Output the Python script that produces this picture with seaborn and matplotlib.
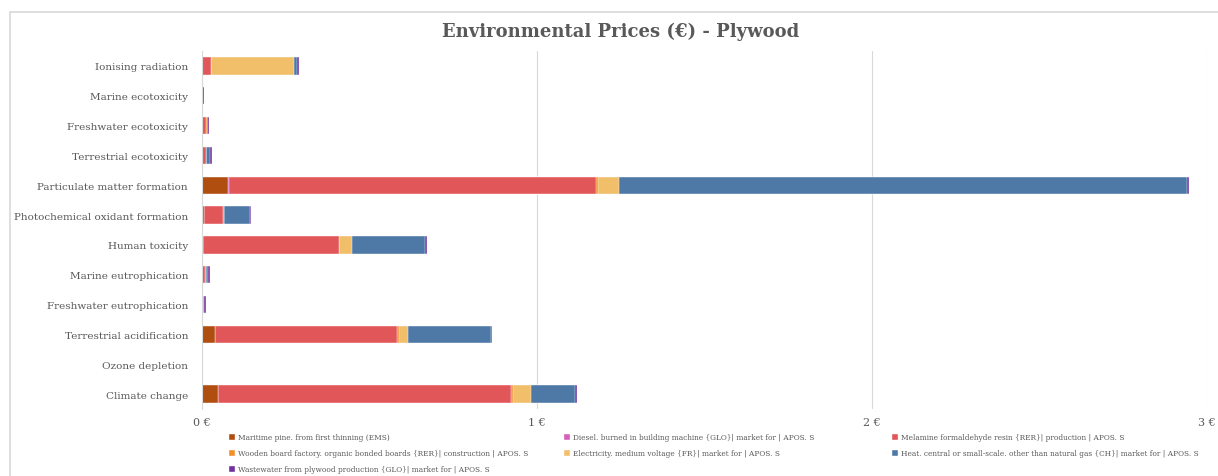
import numpy as np
import pandas as pd
import seaborn as sns
import matplotlib.pyplot as plt
from matplotlib.patches import Patch, Rectangle

# categorías de impacto (de arriba a abajo)
categorias = [
    'Ionising radiation', 'Marine ecotoxicity', 'Freshwater ecotoxicity',
    'Terrestrial ecotoxicity', 'Particulate matter formation',
    'Photochemical oxidant formation', 'Human toxicity', 'Marine eutrophication',
    'Freshwater eutrophication', 'Terrestrial acidification', 'Ozone depletion',
    'Climate change'
]

# contribuciones por proceso (€)
maritime_pine = [0.000, 0.000, 0.000, 0.000, 0.079, 0.007, 0.003, 0.000, 0.000, 0.039, 0.000, 0.047]
diesel        = [0.000, 0.000, 0.000, 0.000, 0.001, 0.000, 0.000, 0.000, 0.000, 0.001, 0.000, 0.001]
melamine      = [0.027, 0.000, 0.013, 0.011, 1.095, 0.055, 0.405, 0.010, 0.004, 0.543, 0.000, 0.873]
wooden_board  = [0.001, 0.000, 0.003, 0.000, 0.008, 0.005, 0.001, 0.002, 0.000, 0.004, 0.000, 0.006]
electricity   = [0.247, 0.000, 0.000, 0.000, 0.062, 0.000, 0.039, 0.000, 0.000, 0.028, 0.000, 0.056]
heat          = [0.010, 0.000, 0.000, 0.014, 1.695, 0.076, 0.219, 0.006, 0.003, 0.248, 0.000, 0.129]
wastewater    = [0.005, 0.005, 0.006, 0.005, 0.006, 0.004, 0.006, 0.005, 0.005, 0.004, 0.002, 0.007]

series = [
    ('Maritime pine. from first thinning (EMS)', maritime_pine, '#B04E0F'),
    ('Diesel. burned in building machine {GLO}| market for | APOS. S', diesel, '#D660B9'),
    ('Melamine formaldehyde resin {RER}| production | APOS. S', melamine, '#E15759'),
    ('Wooden board factory. organic bonded boards {RER}| construction | APOS. S', wooden_board, '#F28E2B'),
    ('Electricity. medium voltage {FR}| market for | APOS. S', electricity, '#F1BE6A'),
    ('Heat. central or small-scale. other than natural gas {CH}| market for | APOS. S', heat, '#4E79A7'),
    ('Wastewater from plywood production {GLO}| market for | APOS. S', wastewater, '#7030A0'),
]

sns.set_style('white')
plt.rcParams['font.family'] = ['DejaVu Serif']
gris = '#595959'

fig = plt.figure(figsize=(12.18, 4.77), dpi=100)
ax = fig.add_axes([202 / 1218, 1 - 410 / 477, (1207 - 202) / 1218, (410 - 52) / 477])

# barras apiladas: se dibujan los acumulados del mayor al menor
acumulado = np.cumsum([np.array(s[1]) for s in series], axis=0)
for i in range(len(series) - 1, -1, -1):
    df = pd.DataFrame({'cat': categorias, 'val': acumulado[i]})
    sns.barplot(data=df, x='val', y='cat', color=series[i][2], orient='h',
                width=0.58, ax=ax, saturation=1, edgecolor='white', linewidth=0.3)

ax.set_xlim(0, 3)
ax.set_xticks([0, 1, 2, 3])
ax.set_xticklabels(['0 €', '1 €', '2 €', '3 €'], color=gris, fontsize=8)
ax.tick_params(axis='y', labelsize=7.5, labelcolor=gris, length=0, pad=10)
ax.tick_params(axis='x', length=0, pad=6)
ax.set_xlabel('')
ax.set_ylabel('')
ax.grid(axis='x', color='#D9D9D9', linewidth=0.8)
ax.set_axisbelow(True)
for s in ['top', 'right', 'bottom']:
    ax.spines[s].set_visible(False)
ax.spines['left'].set_color('#D9D9D9')

fig.text(621 / 1218, 1 - 32 / 477, 'Environmental Prices (€) - Plywood',
         ha='center', va='center', fontsize=13, fontweight='bold', color=gris)

# marco exterior
fig.patches.append(Rectangle((10 / 1218, -0.1), 1.2, 1 - 13 / 477 + 0.1,
                             transform=fig.transFigure, fill=False,
                             edgecolor='#D9D9D9', linewidth=1.2))

# leyenda en tres columnas colocadas a mano
columnas = [([0, 3, 6], 228), ([1, 4], 563), ([2, 5], 891)]
for idx, x0 in columnas:
    handles = [Patch(facecolor=series[k][2], label=series[k][0]) for k in idx]
    fig.legend(handles=handles, loc='upper left', bbox_to_anchor=(x0 / 1218, 1 - 434 / 477),
               ncol=1, frameon=False, fontsize=5.3, labelcolor=gris,
               handlelength=1.0, handleheight=1.0, handletextpad=0.3,
               labelspacing=1.1, borderaxespad=0, borderpad=0)

fig.savefig('out.png', dpi=100)
